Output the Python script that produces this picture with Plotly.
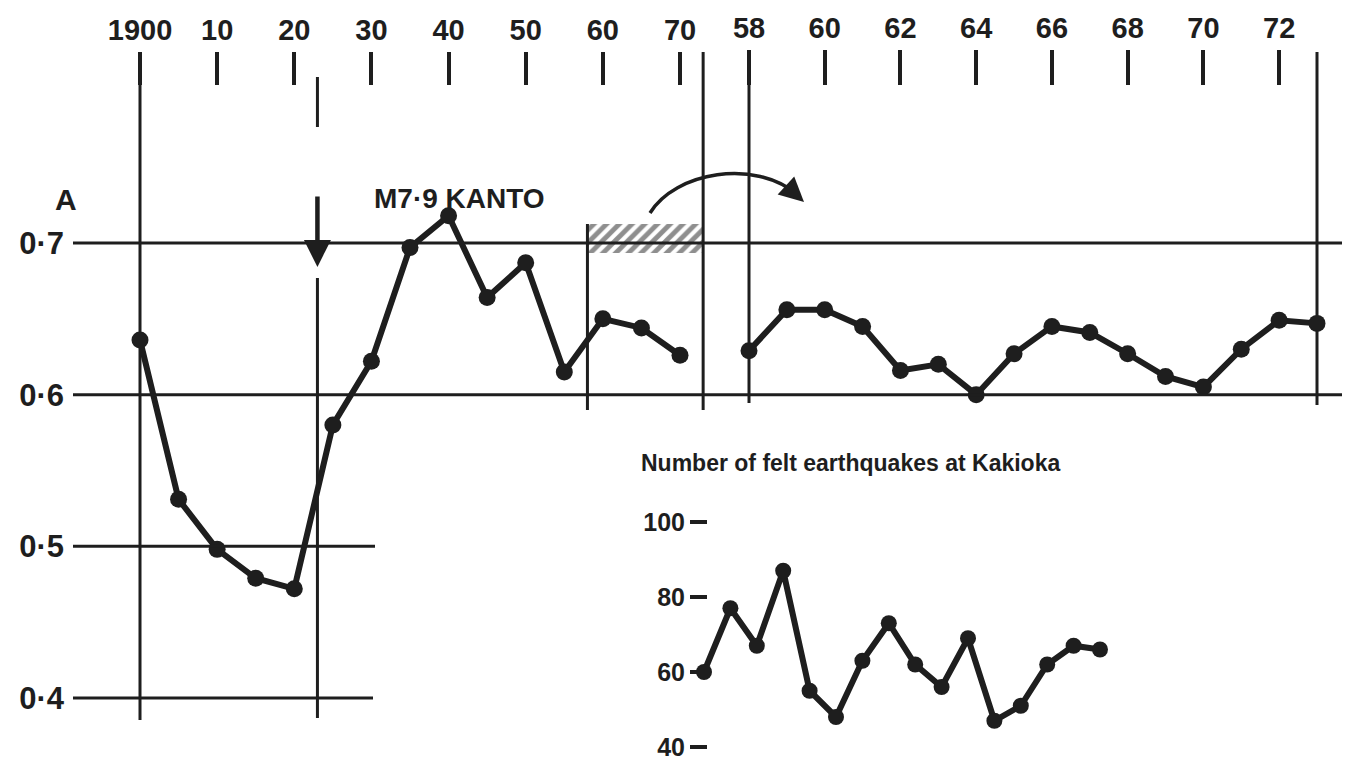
import plotly.graph_objects as go

# ---------------- data ----------------
years_long = [1900, 1905, 1910, 1915, 1920, 1925, 1930, 1935, 1940, 1945, 1950, 1955, 1960, 1965, 1970]
a_long = [0.636, 0.531, 0.498, 0.479, 0.472, 0.580, 0.622, 0.697, 0.718, 0.664, 0.687, 0.615, 0.650, 0.644, 0.626]

years_recent = [1958, 1959, 1960, 1961, 1962, 1963, 1964, 1965, 1966, 1967, 1968, 1969, 1970, 1971, 1972, 1973]
a_recent = [0.629, 0.656, 0.656, 0.645, 0.616, 0.620, 0.600, 0.627, 0.645, 0.641, 0.627, 0.612, 0.605, 0.630, 0.649, 0.647]
felt_quakes = [60, 77, 67, 87, 55, 48, 63, 73, 62, 56, 69, 47, 51, 62, 67, 66]

long_tick_vals = [1900, 1910, 1920, 1930, 1940, 1950, 1960, 1970]
long_tick_text = ["1900", "10", "20", "30", "40", "50", "60", "70"]
recent_tick_vals = [1958, 1960, 1962, 1964, 1966, 1968, 1970, 1972]
recent_tick_text = ["58", "60", "62", "64", "66", "68", "70", "72"]
a_tick_vals = [0.4, 0.5, 0.6, 0.7]
a_tick_text = ["0·4", "0·5", "0·6", "0·7"]
quake_tick_vals = [40, 60, 80, 100]
quake_tick_text = ["40", "60", "80", "100"]
kanto_year = 1923

# ---------------- layout helpers ----------------
OFF = 8                      # default page margin of the html body
W, H = 1350 - OFF, 764 - OFF
INK = "#1e1e1e"
FONT = "Liberation Sans, Arial, sans-serif"


def xspan(v0, p0, v1, p1):
    p0, p1 = p0 - OFF, p1 - OFF
    s = (p1 - p0) / (v1 - v0)
    lo = v0 - p0 / s
    return [lo, lo + W / s]


def yspan(v0, p0, v1, p1):
    p0, p1 = p0 - OFF, p1 - OFF
    s = (p1 - p0) / (v0 - v1)
    top = v0 + p0 / s
    return [top - H / s, top]


def X(px):
    return (px - OFF) / W


def Y(py):
    return 1 - (py - OFF) / H


x_long_range = xspan(1900, 140, 1970, 680)
x_recent_range = xspan(1958, 749, 1973, 1317)
x_quake_range = xspan(1958, 704, 1973, 1100)
y_a_range = yspan(0.7, 243, 0.4, 698)
y_q_range = yspan(100, 522, 40, 747)

fig = go.Figure()

line_style = dict(color=INK, width=6)
marker_style = dict(color=INK, size=17)

# hatched window 1958-1973 on the long-term scale
fig.add_trace(go.Bar(
    x=[(years_recent[0] + years_recent[-1]) / 2], y=[0.0195], base=[0.6932],
    width=[years_recent[-1] - years_recent[0]],
    marker=dict(color="white", line=dict(width=0),
                pattern=dict(shape="/", fgcolor=INK, bgcolor="white", size=9, solidity=0.55)),
    xaxis="x", yaxis="y", hoverinfo="skip"))

fig.add_trace(go.Scatter(x=years_long, y=a_long, mode="lines+markers",
                         line=line_style, marker=marker_style, xaxis="x", yaxis="y"))
fig.add_trace(go.Scatter(x=years_recent, y=a_recent, mode="lines+markers",
                         line=line_style, marker=marker_style, xaxis="x2", yaxis="y"))
fig.add_trace(go.Scatter(x=years_recent, y=felt_quakes, mode="lines+markers",
                         line=line_style, marker=dict(color=INK, size=16), xaxis="x3", yaxis="y3"))

tickfont_big = dict(family=FONT, size=29, color=INK, weight="bold")

# ---------------- shapes ----------------
shapes = []


def hline(val, px0, px1):
    shapes.append(dict(type="line", xref="paper", yref="y", x0=X(px0), x1=X(px1), y0=val, y1=val,
                       line=dict(color=INK, width=3)))


def vline(xref, val, py0, py1, width=3):
    shapes.append(dict(type="line", xref=xref, yref="paper", x0=val, x1=val, y0=Y(py0), y1=Y(py1),
                       line=dict(color=INK, width=width)))


hline(0.7, 73, 1350)
hline(0.6, 73, 1350)
hline(0.5, 73, 375)
hline(0.4, 73, 373)

vline("x", years_long[0], 75, 720)
vline("x", kanto_year, 77, 127)
vline("x", kanto_year, 278, 718)
vline("x", years_recent[0], 224, 410)
vline("x", years_recent[-1], 52, 410)
vline("x2", years_recent[0], 52, 403)
vline("x2", years_recent[-1], 52, 405)

# curved arrow from the hatched window to the expanded panel
shapes.append(dict(type="path", xref="paper", yref="paper",
                   path=f"M {X(650)},{Y(213)} C {X(675)},{Y(172)} {X(755)},{Y(158)} {X(798)},{Y(195)}",
                   line=dict(color=INK, width=3.5)))

annotations = [
    dict(x=X(53), y=Y(181), xref="paper", yref="paper", text="A", showarrow=False,
         font=dict(family=FONT, size=30, color=INK, weight="bold")),
    dict(x=X(372), y=Y(181), xref="paper", yref="paper", text="M7·9 KANTO", showarrow=False,
         font=dict(family=FONT, size=28, color=INK, weight="bold")),
    dict(x=X(850), y=Y(463), xref="paper", yref="paper", text="Number of felt earthquakes at Kakioka",
         showarrow=False, font=dict(family=FONT, size=23, color=INK, weight="bold")),
    # Kanto arrow
    dict(x=kanto_year, y=0.6842, xref="x", yref="y", text="", showarrow=True,
         ax=0, ay=-72, arrowhead=2, arrowsize=1.2, arrowwidth=4.5, arrowcolor=INK),
    # head of curved arrow
    dict(x=X(804), y=Y(202), xref="paper", yref="paper", text="", showarrow=True,
         ax=-12, ay=-11, arrowhead=2, arrowsize=1.4, arrowwidth=3.5, arrowcolor=INK),
]

fig.update_layout(
    width=W, height=H, margin=dict(l=0, r=0, t=0, b=0),
    paper_bgcolor="white", plot_bgcolor="white", showlegend=False,
    shapes=shapes, annotations=annotations, bargap=0,
    xaxis=dict(range=x_long_range, domain=[0, 1], side="top", anchor="free", position=Y(85),
               tickvals=long_tick_vals, ticktext=long_tick_text, ticks="outside", ticklen=33,
               tickwidth=3.5, tickcolor=INK, tickfont=tickfont_big, showgrid=False, zeroline=False,
               showline=False, automargin=False, ticklabeloverflow="allow"),
    xaxis2=dict(range=x_recent_range, overlaying="x", side="top", anchor="free", position=Y(85),
                tickvals=recent_tick_vals, ticktext=recent_tick_text, ticks="outside", ticklen=35,
                tickwidth=3.5, tickcolor=INK, tickfont=tickfont_big, showgrid=False, zeroline=False,
                showline=False, automargin=False, ticklabeloverflow="allow"),
    xaxis3=dict(range=x_quake_range, overlaying="x", visible=False),
    yaxis=dict(range=y_a_range, domain=[0, 1], anchor="free", position=X(73), side="left",
               tickvals=a_tick_vals, ticktext=a_tick_text, ticks="", ticklabelstandoff=9,
               tickfont=dict(family=FONT, size=31, color=INK, weight="bold"),
               showgrid=False, zeroline=False, showline=False, automargin=False,
               ticklabeloverflow="allow"),
    yaxis3=dict(range=y_q_range, overlaying="y", anchor="free", position=X(707), side="left",
                tickvals=quake_tick_vals, ticktext=quake_tick_text, ticks="outside", ticklen=17,
                tickwidth=4, tickcolor=INK, tickfont=dict(family=FONT, size=25, color=INK, weight="bold"),
                showgrid=False, zeroline=False, showline=False, automargin=False,
                ticklabeloverflow="allow"),
)

fig.write_html("out.html")
